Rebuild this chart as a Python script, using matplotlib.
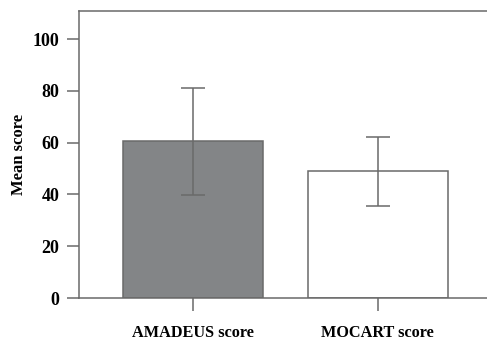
import numpy as np
import matplotlib.pyplot as plt

plt.rcParams['font.family'] = ['Liberation Serif', 'DejaVu Serif']

categorias = ['AMADEUS score', 'MOCART score']
medias = [60.5, 49.0]
errores = [20.6, 13.3]
colores = ['#838587', '#ffffff']

fig = plt.figure(figsize=(4.87, 3.40), dpi=100)
ax = fig.add_axes([0.162, 0.1235, 0.838, 0.844])

x = np.arange(len(categorias))
ax.bar(x, medias, width=0.757, color=colores, edgecolor='#6a6a6a', linewidth=1.1,
       yerr=errores, error_kw=dict(ecolor='#6a6a6a', elinewidth=1.1, capsize=8.6, capthick=1.1))

ax.set_xlim(-0.614, 1.59)
ax.set_ylim(0, 110.8)
ax.set_yticks([0, 20, 40, 60, 80, 100])
ax.set_xticks(x)
ax.set_xticklabels(categorias, fontsize=11.7, fontweight='bold')
for lbl in ax.get_yticklabels():
    lbl.set_fontsize(13)
    lbl.set_fontweight('bold')
ax.set_ylabel('Mean score', fontsize=12, fontweight='bold', labelpad=4)

for s in ['left', 'bottom', 'top']:
    ax.spines[s].set_color('#6a6a6a')
    ax.spines[s].set_linewidth(1.1)
ax.spines['right'].set_visible(False)

ax.tick_params(axis='y', length=8.6, width=1.1, color='#6a6a6a', pad=5.5)
ax.tick_params(axis='x', length=9.5, width=1.1, color='#6a6a6a', pad=10)

fig.savefig('out.png', dpi=100)
